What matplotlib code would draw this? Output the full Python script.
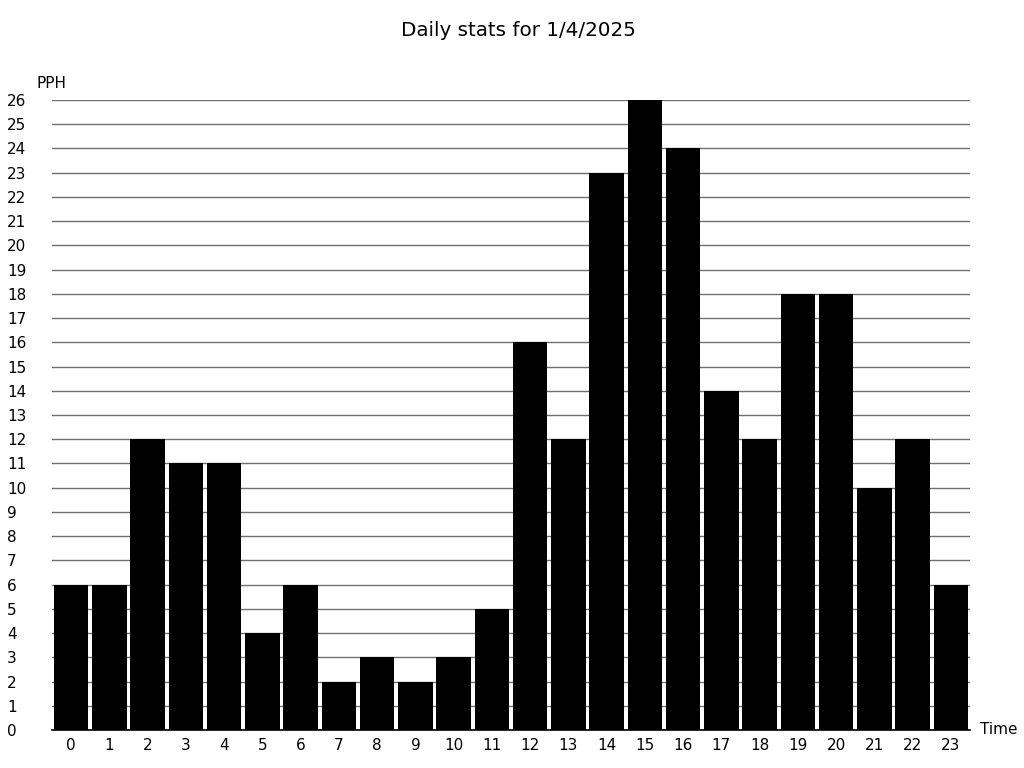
import matplotlib
matplotlib.use('Agg')
from matplotlib import pyplot as plt

hours = list(range(24))
pph = [6, 6, 12, 11, 11, 4, 6, 2, 3, 2, 3, 5, 16, 12, 23, 26, 24, 14, 12, 18, 18, 10, 12, 6]
y_ticks = list(range(27))

fig = plt.figure(figsize=(10.24, 7.68), dpi=100)
ax = fig.add_axes([52 / 1024, 1 - 730 / 768, (970 - 52) / 1024, (730 - 100) / 768])

ax.bar(hours, pph, width=0.9, color='black', zorder=2)
ax.set_xlim(-0.5, 23.5)
ax.set_ylim(0, 26)
ax.set_xticks(hours)
ax.set_yticks(y_ticks)
ax.yaxis.grid(True, color='#707070', linewidth=1, zorder=1)
ax.set_axisbelow(True)

for side in ['left', 'right', 'top']:
    ax.spines[side].set_visible(False)
ax.spines['bottom'].set_color('black')
ax.spines['bottom'].set_linewidth(1.2)

# pad is in points: 45 px at 100 dpi
ax.tick_params(axis='both', length=0, labelsize=11)
ax.tick_params(axis='y', pad=45 * 72 / 100)
for lbl in ax.get_yticklabels():
    lbl.set_horizontalalignment('left')
ax.tick_params(axis='x', pad=6)

fig.text(37 / 1024, 1 - 84 / 768, 'PPH', fontsize=11, va='center', ha='left')
fig.text(980 / 1024, 1 - 730 / 768, 'Time', fontsize=11, va='center', ha='left')
fig.text(0.506, 1 - 30 / 768, 'Daily stats for 1/4/2025', fontsize=14.3, ha='center', va='center')

fig.savefig('out.png', dpi=100)
